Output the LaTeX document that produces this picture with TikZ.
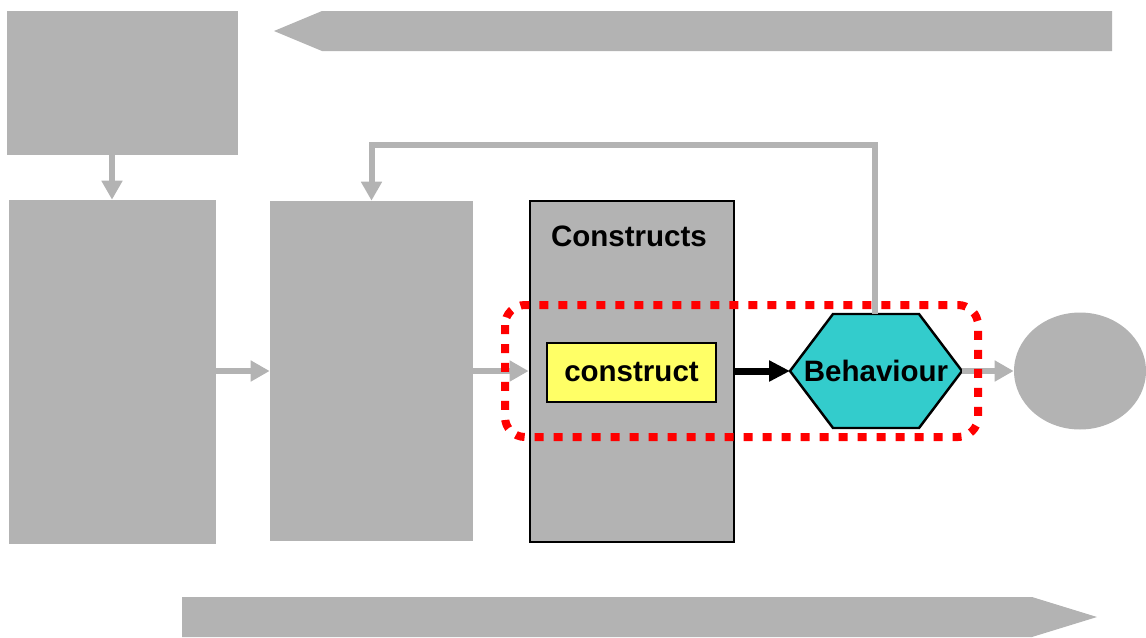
\documentclass[tikz,border=0pt]{standalone}
\usepackage{fontspec}
\setmainfont{Liberation Sans}
\usetikzlibrary{arrows.meta,shapes.geometric}
\definecolor{boxgray}{RGB}{179,179,179}
\definecolor{hexcyan}{RGB}{51,204,204}
\definecolor{pale yellow}{RGB}{255,255,102}

\begin{document}
\begin{tikzpicture}[x=0.02cm,y=-0.02cm,
  greybox/.style={fill=boxgray,inner sep=0pt},
  greyarrow/.style={draw=boxgray,line width=0.12cm,-{Triangle[length=0.38cm,width=0.4cm]}},
  boldtext/.style={font=\fontsize{16.8}{20}\selectfont\bfseries}]
\useasboundingbox (0,0) rectangle (1146,637); % adjust bounding box
% big banner arrows
\fill[boxgray] (1112,11) -- (322,11) -- (274,31) -- (322,51) -- (1112,51) -- cycle;
\fill[boxgray] (182,597) -- (1032,597) -- (1097,617) -- (1032,637) -- (182,637) -- cycle;
% grey blocks
\node[greybox,minimum width=4.62cm,minimum height=2.88cm] (topbox) at (122.5,83) {};
\node[greybox,minimum width=4.14cm,minimum height=6.88cm] (leftbox) at (112.5,372) {};
\node[greybox,minimum width=4.06cm,minimum height=6.8cm] (midbox) at (371.5,371) {};
\node[greybox,draw=black,line width=1.6pt,minimum width=4.08cm,minimum height=6.82cm] (constructs) at (632,371.5) {};
\node[boldtext] (title) at (629,236) {Constructs};
\node[boldtext,fill=pale yellow,draw=black,line width=0.6pt,minimum width=3.38cm,minimum height=1.18cm,inner sep=0pt] (construct) at (631.5,372.5) {construct};
\node[ellipse,greybox,minimum width=2.64cm,minimum height=2.34cm] (outcome) at (1080,371) {};
% hexagon
\draw[fill=hexcyan,line width=1.4pt]
     (790,371) coordinate(hexW)
  -- ++(43,-57)
  -- ++(86,0)
  -- ++(43,57) coordinate(hexE)
  -- ++(-43,57)
  -- ++(-86,0)
  -- cycle;
\coordinate (hexN) at (875,314);
\node[boldtext] (behav) at (876,371) {Behaviour};
% connectors
\draw[greyarrow] (topbox.south -| 112,0) -- (leftbox.north -| 112,0);
\draw[greyarrow] (leftbox.east |- hexW) -- (midbox.west |- hexW);
\draw[greyarrow] (midbox.east |- hexW) -- (constructs.west |- hexW);
\draw[greyarrow] (hexE) -- (outcome.west);
\draw[greyarrow] (hexN) -- ++(0,-169) -| (midbox.north);
\draw[line width=0.14cm,-{Triangle[length=0.42cm,width=0.4cm]}] (constructs.east |- hexW) -- (hexW);
% highlight
\draw[red,line width=0.16cm,dash pattern=on 0.18cm off 0.2cm,rounded corners=0.4cm]
  (505,305) rectangle (978,437);
\end{tikzpicture}
\end{document}
